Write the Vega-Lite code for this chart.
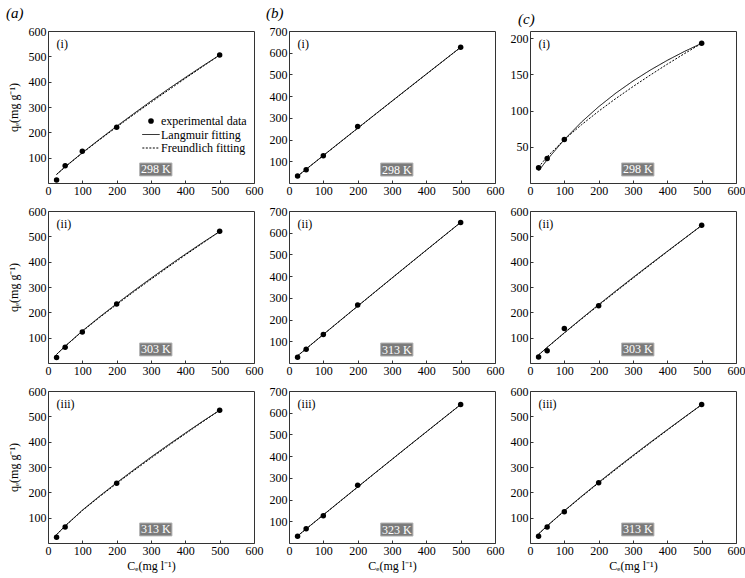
{
"$schema": "https://vega.github.io/schema/vega-lite/v6.json",
"background": "white",
"padding": {"left": 5, "top": 5, "right": 0, "bottom": 5},
"columns": 3,
"spacing": {"row": 28, "column": 35},
"bounds": "flush",
"datasets": {
"pts": [
{"panel":"a1","series":"experimental data","Ce":25,"qe":12},{"panel":"a1","series":"experimental data","Ce":50,"qe":68},{"panel":"a1","series":"experimental data","Ce":100,"qe":125},{"panel":"a1","series":"experimental data","Ce":200,"qe":220},{"panel":"a1","series":"experimental data","Ce":500,"qe":505},
{"panel":"a2","series":"experimental data","Ce":25,"qe":22},{"panel":"a2","series":"experimental data","Ce":50,"qe":62},{"panel":"a2","series":"experimental data","Ce":100,"qe":122},{"panel":"a2","series":"experimental data","Ce":200,"qe":233},{"panel":"a2","series":"experimental data","Ce":500,"qe":520},
{"panel":"a3","series":"experimental data","Ce":25,"qe":23},{"panel":"a3","series":"experimental data","Ce":50,"qe":63},{"panel":"a3","series":"experimental data","Ce":200,"qe":236},{"panel":"a3","series":"experimental data","Ce":500,"qe":524},
{"panel":"b1","series":"experimental data","Ce":25,"qe":32},{"panel":"b1","series":"experimental data","Ce":50,"qe":61},{"panel":"b1","series":"experimental data","Ce":100,"qe":126},{"panel":"b1","series":"experimental data","Ce":200,"qe":260},{"panel":"b1","series":"experimental data","Ce":500,"qe":625},
{"panel":"b2","series":"experimental data","Ce":25,"qe":27},{"panel":"b2","series":"experimental data","Ce":50,"qe":63},{"panel":"b2","series":"experimental data","Ce":100,"qe":131},{"panel":"b2","series":"experimental data","Ce":200,"qe":267},{"panel":"b2","series":"experimental data","Ce":500,"qe":647},
{"panel":"b3","series":"experimental data","Ce":25,"qe":31},{"panel":"b3","series":"experimental data","Ce":50,"qe":66},{"panel":"b3","series":"experimental data","Ce":100,"qe":126},{"panel":"b3","series":"experimental data","Ce":200,"qe":266},{"panel":"b3","series":"experimental data","Ce":500,"qe":638},
{"panel":"c1","series":"experimental data","Ce":25,"qe":21},{"panel":"c1","series":"experimental data","Ce":50,"qe":34},{"panel":"c1","series":"experimental data","Ce":100,"qe":60},{"panel":"c1","series":"experimental data","Ce":500,"qe":193},
{"panel":"c2","series":"experimental data","Ce":25,"qe":24},{"panel":"c2","series":"experimental data","Ce":50,"qe":48},{"panel":"c2","series":"experimental data","Ce":100,"qe":136},{"panel":"c2","series":"experimental data","Ce":200,"qe":226},{"panel":"c2","series":"experimental data","Ce":500,"qe":544},
{"panel":"c3","series":"experimental data","Ce":25,"qe":27},{"panel":"c3","series":"experimental data","Ce":50,"qe":63},{"panel":"c3","series":"experimental data","Ce":100,"qe":123},{"panel":"c3","series":"experimental data","Ce":200,"qe":238},{"panel":"c3","series":"experimental data","Ce":500,"qe":547}
],
"fit": [
{"panel":"a1","series":"Langmuir fitting","Ce":25,"qe":33.9},{"panel":"a1","series":"Langmuir fitting","Ce":50,"qe":64},{"panel":"a1","series":"Langmuir fitting","Ce":100,"qe":119.5},{"panel":"a1","series":"Langmuir fitting","Ce":150,"qe":172.5},{"panel":"a1","series":"Langmuir fitting","Ce":200,"qe":224},{"panel":"a1","series":"Langmuir fitting","Ce":250,"qe":274},{"panel":"a1","series":"Langmuir fitting","Ce":300,"qe":323},{"panel":"a1","series":"Langmuir fitting","Ce":350,"qe":370.5},{"panel":"a1","series":"Langmuir fitting","Ce":400,"qe":416.5},{"panel":"a1","series":"Langmuir fitting","Ce":450,"qe":461.5},{"panel":"a1","series":"Langmuir fitting","Ce":500,"qe":505},
{"panel":"a1","series":"Freundlich fitting","Ce":25,"qe":33.9},{"panel":"a1","series":"Freundlich fitting","Ce":50,"qe":63.3},{"panel":"a1","series":"Freundlich fitting","Ce":100,"qe":118.3},{"panel":"a1","series":"Freundlich fitting","Ce":150,"qe":170.5},{"panel":"a1","series":"Freundlich fitting","Ce":200,"qe":221},{"panel":"a1","series":"Freundlich fitting","Ce":250,"qe":270.3},{"panel":"a1","series":"Freundlich fitting","Ce":300,"qe":318.6},{"panel":"a1","series":"Freundlich fitting","Ce":350,"qe":366.1},{"panel":"a1","series":"Freundlich fitting","Ce":400,"qe":412.9},{"panel":"a1","series":"Freundlich fitting","Ce":450,"qe":459.2},{"panel":"a1","series":"Freundlich fitting","Ce":500,"qe":505},
{"panel":"a2","series":"Langmuir fitting","Ce":25,"qe":34},{"panel":"a2","series":"Langmuir fitting","Ce":50,"qe":66.5},{"panel":"a2","series":"Langmuir fitting","Ce":100,"qe":126.5},{"panel":"a2","series":"Langmuir fitting","Ce":150,"qe":181.5},{"panel":"a2","series":"Langmuir fitting","Ce":200,"qe":234},{"panel":"a2","series":"Langmuir fitting","Ce":250,"qe":285},{"panel":"a2","series":"Langmuir fitting","Ce":300,"qe":334.5},{"panel":"a2","series":"Langmuir fitting","Ce":350,"qe":382.5},{"panel":"a2","series":"Langmuir fitting","Ce":400,"qe":429.5},{"panel":"a2","series":"Langmuir fitting","Ce":450,"qe":475},{"panel":"a2","series":"Langmuir fitting","Ce":500,"qe":519},
{"panel":"a2","series":"Freundlich fitting","Ce":25,"qe":34},{"panel":"a2","series":"Freundlich fitting","Ce":50,"qe":66},{"panel":"a2","series":"Freundlich fitting","Ce":100,"qe":125.2},{"panel":"a2","series":"Freundlich fitting","Ce":150,"qe":179.2},{"panel":"a2","series":"Freundlich fitting","Ce":200,"qe":231},{"panel":"a2","series":"Freundlich fitting","Ce":250,"qe":281.3},{"panel":"a2","series":"Freundlich fitting","Ce":300,"qe":330.5},{"panel":"a2","series":"Freundlich fitting","Ce":350,"qe":378.8},{"panel":"a2","series":"Freundlich fitting","Ce":400,"qe":426.2},{"panel":"a2","series":"Freundlich fitting","Ce":450,"qe":472.9},{"panel":"a2","series":"Freundlich fitting","Ce":500,"qe":519},
{"panel":"a3","series":"Langmuir fitting","Ce":25,"qe":33},{"panel":"a3","series":"Langmuir fitting","Ce":50,"qe":67.5},{"panel":"a3","series":"Langmuir fitting","Ce":100,"qe":129.5},{"panel":"a3","series":"Langmuir fitting","Ce":150,"qe":185},{"panel":"a3","series":"Langmuir fitting","Ce":200,"qe":238},{"panel":"a3","series":"Langmuir fitting","Ce":250,"qe":289},{"panel":"a3","series":"Langmuir fitting","Ce":300,"qe":339},{"panel":"a3","series":"Langmuir fitting","Ce":350,"qe":387},{"panel":"a3","series":"Langmuir fitting","Ce":400,"qe":434},{"panel":"a3","series":"Langmuir fitting","Ce":450,"qe":480},{"panel":"a3","series":"Langmuir fitting","Ce":500,"qe":524},
{"panel":"a3","series":"Freundlich fitting","Ce":25,"qe":33},{"panel":"a3","series":"Freundlich fitting","Ce":50,"qe":67},{"panel":"a3","series":"Freundlich fitting","Ce":100,"qe":128.1},{"panel":"a3","series":"Freundlich fitting","Ce":150,"qe":182.7},{"panel":"a3","series":"Freundlich fitting","Ce":200,"qe":235},{"panel":"a3","series":"Freundlich fitting","Ce":250,"qe":285.7},{"panel":"a3","series":"Freundlich fitting","Ce":300,"qe":335.1},{"panel":"a3","series":"Freundlich fitting","Ce":350,"qe":383.5},{"panel":"a3","series":"Freundlich fitting","Ce":400,"qe":431},{"panel":"a3","series":"Freundlich fitting","Ce":450,"qe":477.8},{"panel":"a3","series":"Freundlich fitting","Ce":500,"qe":524},
{"panel":"b1","series":"Langmuir fitting","Ce":25,"qe":31.7},{"panel":"b1","series":"Langmuir fitting","Ce":50,"qe":63.4},{"panel":"b1","series":"Langmuir fitting","Ce":100,"qe":126.6},{"panel":"b1","series":"Langmuir fitting","Ce":150,"qe":189.6},{"panel":"b1","series":"Langmuir fitting","Ce":200,"qe":252.4},{"panel":"b1","series":"Langmuir fitting","Ce":250,"qe":315},{"panel":"b1","series":"Langmuir fitting","Ce":300,"qe":377.4},{"panel":"b1","series":"Langmuir fitting","Ce":350,"qe":439.6},{"panel":"b1","series":"Langmuir fitting","Ce":400,"qe":501.6},{"panel":"b1","series":"Langmuir fitting","Ce":450,"qe":563.4},{"panel":"b1","series":"Langmuir fitting","Ce":500,"qe":625},
{"panel":"b1","series":"Freundlich fitting","Ce":25,"qe":31.7},{"panel":"b1","series":"Freundlich fitting","Ce":50,"qe":63.2},{"panel":"b1","series":"Freundlich fitting","Ce":100,"qe":126.2},{"panel":"b1","series":"Freundlich fitting","Ce":150,"qe":189},{"panel":"b1","series":"Freundlich fitting","Ce":200,"qe":251.8},{"panel":"b1","series":"Freundlich fitting","Ce":250,"qe":314.3},{"panel":"b1","series":"Freundlich fitting","Ce":300,"qe":376.6},{"panel":"b1","series":"Freundlich fitting","Ce":350,"qe":438.8},{"panel":"b1","series":"Freundlich fitting","Ce":400,"qe":500.9},{"panel":"b1","series":"Freundlich fitting","Ce":450,"qe":562.9},{"panel":"b1","series":"Freundlich fitting","Ce":500,"qe":625},
{"panel":"b2","series":"Langmuir fitting","Ce":25,"qe":33},{"panel":"b2","series":"Langmuir fitting","Ce":50,"qe":65.9},{"panel":"b2","series":"Langmuir fitting","Ce":100,"qe":131.5},{"panel":"b2","series":"Langmuir fitting","Ce":150,"qe":196.9},{"panel":"b2","series":"Langmuir fitting","Ce":200,"qe":262},{"panel":"b2","series":"Langmuir fitting","Ce":250,"qe":326.9},{"panel":"b2","series":"Langmuir fitting","Ce":300,"qe":391.5},{"panel":"b2","series":"Langmuir fitting","Ce":350,"qe":455.9},{"panel":"b2","series":"Langmuir fitting","Ce":400,"qe":520},{"panel":"b2","series":"Langmuir fitting","Ce":450,"qe":583.9},{"panel":"b2","series":"Langmuir fitting","Ce":500,"qe":647.5},
{"panel":"b2","series":"Freundlich fitting","Ce":25,"qe":33},{"panel":"b2","series":"Freundlich fitting","Ce":50,"qe":65.7},{"panel":"b2","series":"Freundlich fitting","Ce":100,"qe":131.1},{"panel":"b2","series":"Freundlich fitting","Ce":150,"qe":196.3},{"panel":"b2","series":"Freundlich fitting","Ce":200,"qe":261.4},{"panel":"b2","series":"Freundlich fitting","Ce":250,"qe":326.2},{"panel":"b2","series":"Freundlich fitting","Ce":300,"qe":390.8},{"panel":"b2","series":"Freundlich fitting","Ce":350,"qe":455.2},{"panel":"b2","series":"Freundlich fitting","Ce":400,"qe":519.3},{"panel":"b2","series":"Freundlich fitting","Ce":450,"qe":583.4},{"panel":"b2","series":"Freundlich fitting","Ce":500,"qe":647.5},
{"panel":"b3","series":"Langmuir fitting","Ce":25,"qe":32.5},{"panel":"b3","series":"Langmuir fitting","Ce":50,"qe":64.9},{"panel":"b3","series":"Langmuir fitting","Ce":100,"qe":129.5},{"panel":"b3","series":"Langmuir fitting","Ce":150,"qe":193.9},{"panel":"b3","series":"Langmuir fitting","Ce":200,"qe":258},{"panel":"b3","series":"Langmuir fitting","Ce":250,"qe":321.9},{"panel":"b3","series":"Langmuir fitting","Ce":300,"qe":385.5},{"panel":"b3","series":"Langmuir fitting","Ce":350,"qe":448.9},{"panel":"b3","series":"Langmuir fitting","Ce":400,"qe":512},{"panel":"b3","series":"Langmuir fitting","Ce":450,"qe":574.9},{"panel":"b3","series":"Langmuir fitting","Ce":500,"qe":637.5},
{"panel":"b3","series":"Freundlich fitting","Ce":25,"qe":32.5},{"panel":"b3","series":"Freundlich fitting","Ce":50,"qe":64.7},{"panel":"b3","series":"Freundlich fitting","Ce":100,"qe":129.1},{"panel":"b3","series":"Freundlich fitting","Ce":150,"qe":193.3},{"panel":"b3","series":"Freundlich fitting","Ce":200,"qe":257.4},{"panel":"b3","series":"Freundlich fitting","Ce":250,"qe":321.2},{"panel":"b3","series":"Freundlich fitting","Ce":300,"qe":384.8},{"panel":"b3","series":"Freundlich fitting","Ce":350,"qe":448.2},{"panel":"b3","series":"Freundlich fitting","Ce":400,"qe":511.3},{"panel":"b3","series":"Freundlich fitting","Ce":450,"qe":574.4},{"panel":"b3","series":"Freundlich fitting","Ce":500,"qe":637.5},
{"panel":"c1","series":"Langmuir fitting","Ce":25,"qe":16.7},{"panel":"c1","series":"Langmuir fitting","Ce":50,"qe":32.2},{"panel":"c1","series":"Langmuir fitting","Ce":100,"qe":60},{"panel":"c1","series":"Langmuir fitting","Ce":150,"qe":84.2},{"panel":"c1","series":"Langmuir fitting","Ce":200,"qe":105.4},{"panel":"c1","series":"Langmuir fitting","Ce":250,"qe":124.2},{"panel":"c1","series":"Langmuir fitting","Ce":300,"qe":140.9},{"panel":"c1","series":"Langmuir fitting","Ce":350,"qe":155.9},{"panel":"c1","series":"Langmuir fitting","Ce":400,"qe":169.5},{"panel":"c1","series":"Langmuir fitting","Ce":450,"qe":181.8},{"panel":"c1","series":"Langmuir fitting","Ce":500,"qe":193},
{"panel":"c1","series":"Freundlich fitting","Ce":25,"qe":21.9},{"panel":"c1","series":"Freundlich fitting","Ce":50,"qe":36.3},{"panel":"c1","series":"Freundlich fitting","Ce":100,"qe":60},{"panel":"c1","series":"Freundlich fitting","Ce":150,"qe":80.5},{"panel":"c1","series":"Freundlich fitting","Ce":200,"qe":99.2},{"panel":"c1","series":"Freundlich fitting","Ce":250,"qe":116.7},{"panel":"c1","series":"Freundlich fitting","Ce":300,"qe":133.2},{"panel":"c1","series":"Freundlich fitting","Ce":350,"qe":149},{"panel":"c1","series":"Freundlich fitting","Ce":400,"qe":164.2},{"panel":"c1","series":"Freundlich fitting","Ce":450,"qe":178.8},{"panel":"c1","series":"Freundlich fitting","Ce":500,"qe":193},
{"panel":"c2","series":"Langmuir fitting","Ce":25,"qe":31.8},{"panel":"c2","series":"Langmuir fitting","Ce":50,"qe":61.8},{"panel":"c2","series":"Langmuir fitting","Ce":100,"qe":119.3},{"panel":"c2","series":"Langmuir fitting","Ce":150,"qe":175.3},{"panel":"c2","series":"Langmuir fitting","Ce":200,"qe":230.5},{"panel":"c2","series":"Langmuir fitting","Ce":250,"qe":284.5},{"panel":"c2","series":"Langmuir fitting","Ce":300,"qe":337.5},{"panel":"c2","series":"Langmuir fitting","Ce":350,"qe":389.5},{"panel":"c2","series":"Langmuir fitting","Ce":400,"qe":441},{"panel":"c2","series":"Langmuir fitting","Ce":450,"qe":492},{"panel":"c2","series":"Langmuir fitting","Ce":500,"qe":543},
{"panel":"c2","series":"Freundlich fitting","Ce":25,"qe":31.8},{"panel":"c2","series":"Freundlich fitting","Ce":50,"qe":61.3},{"panel":"c2","series":"Freundlich fitting","Ce":100,"qe":118.3},{"panel":"c2","series":"Freundlich fitting","Ce":150,"qe":173.6},{"panel":"c2","series":"Freundlich fitting","Ce":200,"qe":228},{"panel":"c2","series":"Freundlich fitting","Ce":250,"qe":281.6},{"panel":"c2","series":"Freundlich fitting","Ce":300,"qe":334.8},{"panel":"c2","series":"Freundlich fitting","Ce":350,"qe":387.3},{"panel":"c2","series":"Freundlich fitting","Ce":400,"qe":439.6},{"panel":"c2","series":"Freundlich fitting","Ce":450,"qe":491.4},{"panel":"c2","series":"Freundlich fitting","Ce":500,"qe":543},
{"panel":"c3","series":"Langmuir fitting","Ce":25,"qe":35.7},{"panel":"c3","series":"Langmuir fitting","Ce":50,"qe":67.6},{"panel":"c3","series":"Langmuir fitting","Ce":100,"qe":127.3},{"panel":"c3","series":"Langmuir fitting","Ce":150,"qe":184.2},{"panel":"c3","series":"Langmuir fitting","Ce":200,"qe":239.5},{"panel":"c3","series":"Langmuir fitting","Ce":250,"qe":293.3},{"panel":"c3","series":"Langmuir fitting","Ce":300,"qe":345.7},{"panel":"c3","series":"Langmuir fitting","Ce":350,"qe":397},{"panel":"c3","series":"Langmuir fitting","Ce":400,"qe":447.3},{"panel":"c3","series":"Langmuir fitting","Ce":450,"qe":497},{"panel":"c3","series":"Langmuir fitting","Ce":500,"qe":546},
{"panel":"c3","series":"Freundlich fitting","Ce":25,"qe":35.7},{"panel":"c3","series":"Freundlich fitting","Ce":50,"qe":67.1},{"panel":"c3","series":"Freundlich fitting","Ce":100,"qe":126.1},{"panel":"c3","series":"Freundlich fitting","Ce":150,"qe":182.4},{"panel":"c3","series":"Freundlich fitting","Ce":200,"qe":237},{"panel":"c3","series":"Freundlich fitting","Ce":250,"qe":290.4},{"panel":"c3","series":"Freundlich fitting","Ce":300,"qe":342.9},{"panel":"c3","series":"Freundlich fitting","Ce":350,"qe":394.5},{"panel":"c3","series":"Freundlich fitting","Ce":400,"qe":445.5},{"panel":"c3","series":"Freundlich fitting","Ce":450,"qe":496},{"panel":"c3","series":"Freundlich fitting","Ce":500,"qe":546}
]
},
"concat": [
{"width":206,"height":152,
 "title":{"text":"(a)","anchor":"start","frame":"group","dx":-42,"offset":4,"fontStyle":"italic","fontSize":15,"fontWeight":"normal","font":"Liberation Serif","color":"black"},
 "layer":[
  {"data":{"name":"fit"},"transform":[{"filter":"datum.panel === 'a1'"}],"mark":{"type":"line","strokeWidth":1},
   "encoding":{"x":{"field":"Ce","type":"quantitative","scale":{"domain":[0,600],"nice":false},"axis":{"values":[0,100,200,300,400,500,600],"tickCount":20,"title":null}},
    "y":{"field":"qe","type":"quantitative","scale":{"domain":[0,600],"nice":false},"axis":{"values":[100,200,300,400,500,600],"tickCount":20,"title":"qₑ(mg g⁻¹)"}},
    "strokeDash":{"field":"series","type":"nominal","scale":{"domain":["Langmuir fitting","Freundlich fitting"],"range":[[1,0],[2,1.5]]},"legend":null},
    "color":{"field":"series","type":"nominal","scale":{"domain":["experimental data","Langmuir fitting","Freundlich fitting"],"range":["black","black","black"]},
     "legend":{"orient":"none","legendX":97,"legendY":84,"title":null,"labelFont":"Liberation Serif","labelFontSize":12,"labelColor":"black","symbolSize":300,"rowPadding":1.5,"labelOffset":4,"symbolType":"stroke",
      "encode":{"symbols":{"update":{"shape":{"signal":"datum.value === 'experimental data' ? 'circle' : 'stroke'"},"size":{"signal":"datum.value === 'experimental data' ? 32 : 300"},"fill":{"signal":"datum.value === 'experimental data' ? 'black' : 'transparent'"},"stroke":{"value":"black"},"strokeWidth":{"signal":"datum.value === 'experimental data' ? 0 : 1"},"strokeDash":{"signal":"datum.value === 'Freundlich fitting' ? [2,1.5] : [1,0]"},"opacity":{"value":1}}}}}}}},
  {"data":{"name":"pts"},"transform":[{"filter":"datum.panel === 'a1'"}],"mark":{"type":"point","filled":true,"size":30,"opacity":1},
   "encoding":{"x":{"field":"Ce","type":"quantitative"},"y":{"field":"qe","type":"quantitative"},"color":{"field":"series","type":"nominal"}}},
  {"data":{"values":[{}]},"mark":{"type":"rect","fill":"#7b7b7b","stroke":"#b5b5b5","strokeWidth":1},"encoding":{"x":{"datum":267},"x2":{"datum":361},"y":{"datum":28},"y2":{"datum":79}}},
  {"data":{"values":[{}]},"mark":{"type":"text","text":"298 K","color":"white","fontSize":12,"font":"Liberation Serif"},"encoding":{"x":{"datum":314},"y":{"datum":53.5}}},
  {"data":{"values":[{}]},"mark":{"type":"text","text":"(i)","align":"left","fontSize":12,"font":"Liberation Serif","color":"black"},"encoding":{"x":{"datum":25},"y":{"datum":549}}}
 ]},
{"width":206,"height":152,
 "title":{"text":"(b)","anchor":"start","frame":"group","dx":-23,"offset":4,"fontStyle":"italic","fontSize":15,"fontWeight":"normal","font":"Liberation Serif","color":"black"},
 "layer":[
  {"data":{"name":"fit"},"transform":[{"filter":"datum.panel === 'b1'"}],"mark":{"type":"line","strokeWidth":1,"color":"black"},
   "encoding":{"x":{"field":"Ce","type":"quantitative","scale":{"domain":[0,600],"nice":false},"axis":{"values":[0,100,200,300,400,500,600],"tickCount":20,"title":null}},
    "y":{"field":"qe","type":"quantitative","scale":{"domain":[0,700],"nice":false},"axis":{"values":[100,200,300,400,500,600,700],"tickCount":20,"title":null}},
    "strokeDash":{"field":"series","type":"nominal","scale":{"domain":["Langmuir fitting","Freundlich fitting"],"range":[[1,0],[2,1.5]]},"legend":null}}},
  {"data":{"name":"pts"},"transform":[{"filter":"datum.panel === 'b1'"}],"mark":{"type":"point","filled":true,"size":30,"opacity":1,"color":"black"},
   "encoding":{"x":{"field":"Ce","type":"quantitative"},"y":{"field":"qe","type":"quantitative"}}},
  {"data":{"values":[{}]},"mark":{"type":"rect","fill":"#7b7b7b","stroke":"#b5b5b5","strokeWidth":1},"encoding":{"x":{"datum":267},"x2":{"datum":361},"y":{"datum":32},"y2":{"datum":92}}},
  {"data":{"values":[{}]},"mark":{"type":"text","text":"298 K","color":"white","fontSize":12,"font":"Liberation Serif"},"encoding":{"x":{"datum":314},"y":{"datum":62}}},
  {"data":{"values":[{}]},"mark":{"type":"text","text":"(i)","align":"left","fontSize":12,"font":"Liberation Serif","color":"black"},"encoding":{"x":{"datum":25},"y":{"datum":640}}}
 ]},
{"width":206,"height":152,
 "title":{"text":"(c)","anchor":"start","frame":"group","dx":-12,"offset":4,"fontStyle":"italic","fontSize":15,"fontWeight":"normal","font":"Liberation Serif","color":"black"},
 "layer":[
  {"data":{"name":"fit"},"transform":[{"filter":"datum.panel === 'c1'"}],"mark":{"type":"line","strokeWidth":1,"color":"black"},
   "encoding":{"x":{"field":"Ce","type":"quantitative","scale":{"domain":[0,600],"nice":false},"axis":{"values":[0,100,200,300,400,500,600],"tickCount":20,"title":null}},
    "y":{"field":"qe","type":"quantitative","scale":{"domain":[0,210],"nice":false},"axis":{"values":[50,100,150,200],"tickCount":20,"title":null}},
    "strokeDash":{"field":"series","type":"nominal","scale":{"domain":["Langmuir fitting","Freundlich fitting"],"range":[[1,0],[2,1.5]]},"legend":null}}},
  {"data":{"name":"pts"},"transform":[{"filter":"datum.panel === 'c1'"}],"mark":{"type":"point","filled":true,"size":30,"opacity":1,"color":"black"},
   "encoding":{"x":{"field":"Ce","type":"quantitative"},"y":{"field":"qe","type":"quantitative"}}},
  {"data":{"values":[{}]},"mark":{"type":"rect","fill":"#7b7b7b","stroke":"#b5b5b5","strokeWidth":1},"encoding":{"x":{"datum":267},"x2":{"datum":361},"y":{"datum":9.7},"y2":{"datum":27.7}}},
  {"data":{"values":[{}]},"mark":{"type":"text","text":"298 K","color":"white","fontSize":12,"font":"Liberation Serif"},"encoding":{"x":{"datum":314},"y":{"datum":18.7}}},
  {"data":{"values":[{}]},"mark":{"type":"text","text":"(i)","align":"left","fontSize":12,"font":"Liberation Serif","color":"black"},"encoding":{"x":{"datum":25},"y":{"datum":192}}}
 ]},
{"width":206,"height":152,
 "layer":[
  {"data":{"name":"fit"},"transform":[{"filter":"datum.panel === 'a2'"}],"mark":{"type":"line","strokeWidth":1,"color":"black"},
   "encoding":{"x":{"field":"Ce","type":"quantitative","scale":{"domain":[0,600],"nice":false},"axis":{"values":[0,100,200,300,400,500,600],"tickCount":20,"title":null}},
    "y":{"field":"qe","type":"quantitative","scale":{"domain":[0,600],"nice":false},"axis":{"values":[100,200,300,400,500,600],"tickCount":20,"title":"qₑ(mg g⁻¹)"}},
    "strokeDash":{"field":"series","type":"nominal","scale":{"domain":["Langmuir fitting","Freundlich fitting"],"range":[[1,0],[2,1.5]]},"legend":null}}},
  {"data":{"name":"pts"},"transform":[{"filter":"datum.panel === 'a2'"}],"mark":{"type":"point","filled":true,"size":30,"opacity":1,"color":"black"},
   "encoding":{"x":{"field":"Ce","type":"quantitative"},"y":{"field":"qe","type":"quantitative"}}},
  {"data":{"values":[{}]},"mark":{"type":"rect","fill":"#7b7b7b","stroke":"#b5b5b5","strokeWidth":1},"encoding":{"x":{"datum":267},"x2":{"datum":361},"y":{"datum":28},"y2":{"datum":79}}},
  {"data":{"values":[{}]},"mark":{"type":"text","text":"303 K","color":"white","fontSize":12,"font":"Liberation Serif"},"encoding":{"x":{"datum":314},"y":{"datum":53.5}}},
  {"data":{"values":[{}]},"mark":{"type":"text","text":"(ii)","align":"left","fontSize":12,"font":"Liberation Serif","color":"black"},"encoding":{"x":{"datum":25},"y":{"datum":549}}}
 ]},
{"width":206,"height":152,
 "layer":[
  {"data":{"name":"fit"},"transform":[{"filter":"datum.panel === 'b2'"}],"mark":{"type":"line","strokeWidth":1,"color":"black"},
   "encoding":{"x":{"field":"Ce","type":"quantitative","scale":{"domain":[0,600],"nice":false},"axis":{"values":[0,100,200,300,400,500,600],"tickCount":20,"title":null}},
    "y":{"field":"qe","type":"quantitative","scale":{"domain":[0,700],"nice":false},"axis":{"values":[100,200,300,400,500,600,700],"tickCount":20,"title":null}},
    "strokeDash":{"field":"series","type":"nominal","scale":{"domain":["Langmuir fitting","Freundlich fitting"],"range":[[1,0],[2,1.5]]},"legend":null}}},
  {"data":{"name":"pts"},"transform":[{"filter":"datum.panel === 'b2'"}],"mark":{"type":"point","filled":true,"size":30,"opacity":1,"color":"black"},
   "encoding":{"x":{"field":"Ce","type":"quantitative"},"y":{"field":"qe","type":"quantitative"}}},
  {"data":{"values":[{}]},"mark":{"type":"rect","fill":"#7b7b7b","stroke":"#b5b5b5","strokeWidth":1},"encoding":{"x":{"datum":267},"x2":{"datum":361},"y":{"datum":32},"y2":{"datum":92}}},
  {"data":{"values":[{}]},"mark":{"type":"text","text":"313 K","color":"white","fontSize":12,"font":"Liberation Serif"},"encoding":{"x":{"datum":314},"y":{"datum":62}}},
  {"data":{"values":[{}]},"mark":{"type":"text","text":"(ii)","align":"left","fontSize":12,"font":"Liberation Serif","color":"black"},"encoding":{"x":{"datum":25},"y":{"datum":640}}}
 ]},
{"width":206,"height":152,
 "layer":[
  {"data":{"name":"fit"},"transform":[{"filter":"datum.panel === 'c2'"}],"mark":{"type":"line","strokeWidth":1,"color":"black"},
   "encoding":{"x":{"field":"Ce","type":"quantitative","scale":{"domain":[0,600],"nice":false},"axis":{"values":[0,100,200,300,400,500,600],"tickCount":20,"title":null}},
    "y":{"field":"qe","type":"quantitative","scale":{"domain":[0,600],"nice":false},"axis":{"values":[100,200,300,400,500,600],"tickCount":20,"title":null}},
    "strokeDash":{"field":"series","type":"nominal","scale":{"domain":["Langmuir fitting","Freundlich fitting"],"range":[[1,0],[2,1.5]]},"legend":null}}},
  {"data":{"name":"pts"},"transform":[{"filter":"datum.panel === 'c2'"}],"mark":{"type":"point","filled":true,"size":30,"opacity":1,"color":"black"},
   "encoding":{"x":{"field":"Ce","type":"quantitative"},"y":{"field":"qe","type":"quantitative"}}},
  {"data":{"values":[{}]},"mark":{"type":"rect","fill":"#7b7b7b","stroke":"#b5b5b5","strokeWidth":1},"encoding":{"x":{"datum":267},"x2":{"datum":361},"y":{"datum":28},"y2":{"datum":79}}},
  {"data":{"values":[{}]},"mark":{"type":"text","text":"303 K","color":"white","fontSize":12,"font":"Liberation Serif"},"encoding":{"x":{"datum":314},"y":{"datum":53.5}}},
  {"data":{"values":[{}]},"mark":{"type":"text","text":"(ii)","align":"left","fontSize":12,"font":"Liberation Serif","color":"black"},"encoding":{"x":{"datum":25},"y":{"datum":549}}}
 ]},
{"width":206,"height":152,
 "layer":[
  {"data":{"name":"fit"},"transform":[{"filter":"datum.panel === 'a3'"}],"mark":{"type":"line","strokeWidth":1,"color":"black"},
   "encoding":{"x":{"field":"Ce","type":"quantitative","scale":{"domain":[0,600],"nice":false},"axis":{"values":[0,100,200,300,400,500,600],"tickCount":20,"title":"Cₑ(mg l⁻¹)"}},
    "y":{"field":"qe","type":"quantitative","scale":{"domain":[0,600],"nice":false},"axis":{"values":[100,200,300,400,500,600],"tickCount":20,"title":"qₑ(mg g⁻¹)"}},
    "strokeDash":{"field":"series","type":"nominal","scale":{"domain":["Langmuir fitting","Freundlich fitting"],"range":[[1,0],[2,1.5]]},"legend":null}}},
  {"data":{"name":"pts"},"transform":[{"filter":"datum.panel === 'a3'"}],"mark":{"type":"point","filled":true,"size":30,"opacity":1,"color":"black"},
   "encoding":{"x":{"field":"Ce","type":"quantitative"},"y":{"field":"qe","type":"quantitative"}}},
  {"data":{"values":[{}]},"mark":{"type":"rect","fill":"#7b7b7b","stroke":"#b5b5b5","strokeWidth":1},"encoding":{"x":{"datum":267},"x2":{"datum":361},"y":{"datum":28},"y2":{"datum":79}}},
  {"data":{"values":[{}]},"mark":{"type":"text","text":"313 K","color":"white","fontSize":12,"font":"Liberation Serif"},"encoding":{"x":{"datum":314},"y":{"datum":53.5}}},
  {"data":{"values":[{}]},"mark":{"type":"text","text":"(iii)","align":"left","fontSize":12,"font":"Liberation Serif","color":"black"},"encoding":{"x":{"datum":25},"y":{"datum":549}}}
 ]},
{"width":206,"height":152,
 "layer":[
  {"data":{"name":"fit"},"transform":[{"filter":"datum.panel === 'b3'"}],"mark":{"type":"line","strokeWidth":1,"color":"black"},
   "encoding":{"x":{"field":"Ce","type":"quantitative","scale":{"domain":[0,600],"nice":false},"axis":{"values":[0,100,200,300,400,500,600],"tickCount":20,"title":"Cₑ(mg l⁻¹)"}},
    "y":{"field":"qe","type":"quantitative","scale":{"domain":[0,700],"nice":false},"axis":{"values":[100,200,300,400,500,600,700],"tickCount":20,"title":null}},
    "strokeDash":{"field":"series","type":"nominal","scale":{"domain":["Langmuir fitting","Freundlich fitting"],"range":[[1,0],[2,1.5]]},"legend":null}}},
  {"data":{"name":"pts"},"transform":[{"filter":"datum.panel === 'b3'"}],"mark":{"type":"point","filled":true,"size":30,"opacity":1,"color":"black"},
   "encoding":{"x":{"field":"Ce","type":"quantitative"},"y":{"field":"qe","type":"quantitative"}}},
  {"data":{"values":[{}]},"mark":{"type":"rect","fill":"#7b7b7b","stroke":"#b5b5b5","strokeWidth":1},"encoding":{"x":{"datum":267},"x2":{"datum":361},"y":{"datum":32},"y2":{"datum":92}}},
  {"data":{"values":[{}]},"mark":{"type":"text","text":"323 K","color":"white","fontSize":12,"font":"Liberation Serif"},"encoding":{"x":{"datum":314},"y":{"datum":62}}},
  {"data":{"values":[{}]},"mark":{"type":"text","text":"(iii)","align":"left","fontSize":12,"font":"Liberation Serif","color":"black"},"encoding":{"x":{"datum":25},"y":{"datum":640}}}
 ]},
{"width":206,"height":152,
 "layer":[
  {"data":{"name":"fit"},"transform":[{"filter":"datum.panel === 'c3'"}],"mark":{"type":"line","strokeWidth":1,"color":"black"},
   "encoding":{"x":{"field":"Ce","type":"quantitative","scale":{"domain":[0,600],"nice":false},"axis":{"values":[0,100,200,300,400,500,600],"tickCount":20,"title":"Cₑ(mg l⁻¹)"}},
    "y":{"field":"qe","type":"quantitative","scale":{"domain":[0,600],"nice":false},"axis":{"values":[100,200,300,400,500,600],"tickCount":20,"title":null}},
    "strokeDash":{"field":"series","type":"nominal","scale":{"domain":["Langmuir fitting","Freundlich fitting"],"range":[[1,0],[2,1.5]]},"legend":null}}},
  {"data":{"name":"pts"},"transform":[{"filter":"datum.panel === 'c3'"}],"mark":{"type":"point","filled":true,"size":30,"opacity":1,"color":"black"},
   "encoding":{"x":{"field":"Ce","type":"quantitative"},"y":{"field":"qe","type":"quantitative"}}},
  {"data":{"values":[{}]},"mark":{"type":"rect","fill":"#7b7b7b","stroke":"#b5b5b5","strokeWidth":1},"encoding":{"x":{"datum":267},"x2":{"datum":361},"y":{"datum":28},"y2":{"datum":79}}},
  {"data":{"values":[{}]},"mark":{"type":"text","text":"313 K","color":"white","fontSize":12,"font":"Liberation Serif"},"encoding":{"x":{"datum":314},"y":{"datum":53.5}}},
  {"data":{"values":[{}]},"mark":{"type":"text","text":"(iii)","align":"left","fontSize":12,"font":"Liberation Serif","color":"black"},"encoding":{"x":{"datum":25},"y":{"datum":549}}}
 ]}
],
"config": {
 "font": "Liberation Serif",
 "view": {"stroke": "#333", "strokeWidth": 1},
 "axis": {"domain": false, "grid": false, "ticks": true, "tickSize": -3, "tickColor": "#333", "tickCount": 20, "labelFont": "Liberation Serif", "labelFontSize": 12, "labelColor": "black", "labelPadding": 5, "labelFlush": false, "labelOverlap": false, "titleFont": "Liberation Serif", "titleFontSize": 12, "titleFontWeight": "normal", "titleColor": "black"},
 "axisY": {"titlePadding": 8},
 "axisX": {"titlePadding": 4}
}
}
